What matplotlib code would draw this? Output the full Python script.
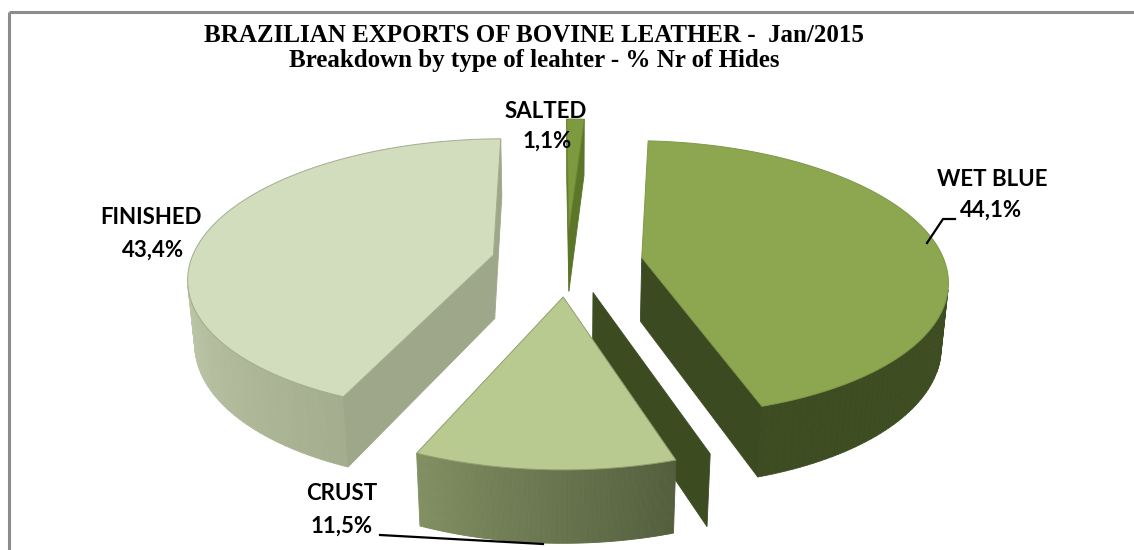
import numpy as np
import matplotlib
matplotlib.use("Agg")
import matplotlib.pyplot as plt
from matplotlib.patches import Polygon
from matplotlib.colors import to_rgb

# ---------------- data ----------------
categories = ["WET BLUE", "CRUST", "FINISHED", "SALTED"]
shares = [44.1, 11.5, 43.4, 1.1]
pct_labels = ["44,1%", "11,5%", "43,4%", "1,1%"]
title_lines = ["BRAZILIAN EXPORTS OF BOVINE LEATHER -  Jan/2015",
               "Breakdown by type of leahter - % Nr of Hides"]

# ---------------- style ----------------
top_colors = ["#8CA750", "#B8CA8F", "#D1DDBC", "#7D9A3E"]
wall_col_a = ["#3A4820", "#535E3D", "#A4AE8E", "#5F7B2C"]   # colour at slice start angle
wall_col_b = ["#3E4C22", "#818F62", "#C6D0B2", "#6E8B36"]   # colour towards slice end
radial_cols = ["#3C4A21", "#6E7B52", "#9EA78A", "#5B7629"]
edge_cols = ["#7E9848", "#8F9E6E", "#A3AD8E", "#6B8634"]
ghost_col = "#3D4B21"

W, H = 1134, 550
fig = plt.figure(figsize=(W / 100, H / 100), dpi=100)
ax = fig.add_axes([0, 0, 1, 1])
ax.set_xlim(0, W)
ax.set_ylim(H, 0)
ax.axis("off")

# ---------------- 3D projection ----------------
elev = np.radians(27.6)
Dcam = 6.0
Fcam = 1800.0
X0, Y0 = 567.0, 294.0
thick = 0.24
zt, zb = thick / 2, -thick / 2
explode = 0.25
start_deg = 3.5
cam = np.array([0.0, Dcam * np.cos(elev), Dcam * np.sin(elev)])


def proj(x, y, z):
    depth = Dcam - y * np.cos(elev) - z * np.sin(elev)
    up = -y * np.sin(elev) + z * np.cos(elev)
    return X0 + Fcam * x / depth, Y0 - Fcam * up / depth


def visible(n, p):
    return np.dot(n, cam - p) > 0


def lerp_col(c1, c2, s):
    a, b = np.array(to_rgb(c1)), np.array(to_rgb(c2))
    return tuple(a + (b - a) * np.clip(s, 0, 1))


total = sum(shares)
bounds = np.concatenate([[0], np.cumsum(shares)]) / total * 360 + start_deg


def slice_geom(i, off):
    a0, a1 = np.radians(bounds[i]), np.radians(bounds[i + 1])
    th = np.linspace(a0, a1, 120)
    ox, oy = off
    rx, ry = np.sin(th) + ox, -np.cos(th) + oy
    return a0, a1, th, rx, ry, ox, oy


def radial_face(a, ox, oy, sign):
    n = sign * np.array([np.cos(a), np.sin(a), 0.0])
    ex, ey = np.sin(a) + ox, -np.cos(a) + oy
    pts3 = [(ox, oy, zt), (ex, ey, zt), (ex, ey, zb), (ox, oy, zb)]
    return n, pts3


def draw_slice(i, off):
    a0, a1, th, rx, ry, ox, oy = slice_geom(i, off)
    # outer wall
    for k in range(len(th) - 1):
        tm = 0.5 * (th[k] + th[k + 1])
        n = np.array([np.sin(tm), -np.cos(tm), 0.0])
        p = np.array([0.5 * (rx[k] + rx[k + 1]), 0.5 * (ry[k] + ry[k + 1]), 0.0])
        if not visible(n, p):
            continue
        span = min(a1 - a0, np.radians(75))
        s = (tm - a0) / span
        col = lerp_col(wall_col_a[i], wall_col_b[i], s)
        q = [proj(rx[k], ry[k], zt), proj(rx[k + 1], ry[k + 1], zt),
             proj(rx[k + 1], ry[k + 1], zb), proj(rx[k], ry[k], zb)]
        ax.add_patch(Polygon(q, closed=True, fc=col, ec=col, lw=0.6, zorder=2))
    # radial faces
    for a, sign in ((a0, -1.0), (a1, 1.0)):
        n, pts3 = radial_face(a, ox, oy, sign)
        c = np.mean(np.array(pts3), axis=0)
        if visible(n, c):
            q = [proj(*p) for p in pts3]
            ax.add_patch(Polygon(q, closed=True, fc=radial_cols[i],
                                 ec=radial_cols[i], lw=0.6, zorder=2))
    # top face
    top = [proj(ox, oy, zt)] + [proj(x, y, zt) for x, y in zip(rx, ry)]
    ax.add_patch(Polygon(top, closed=True, fc=top_colors[i], ec=edge_cols[i],
                         lw=0.7, zorder=2))


offsets = []
for i in range(len(shares)):
    m = np.radians(0.5 * (bounds[i] + bounds[i + 1]))
    offsets.append((explode * np.sin(m), -explode * np.cos(m)))

# painter order: salted (far), finished, wet blue, ghost face, crust (near)
draw_slice(3, offsets[3])
draw_slice(2, offsets[2])
draw_slice(0, offsets[0])

# detached end face of the wet-blue slice, drawn next to the crust slice
a_end = np.radians(bounds[1])
nrm = np.array([-np.cos(a_end), -np.sin(a_end)])
goff = (offsets[1][0] + 0.10 * nrm[0], offsets[1][1] + 0.10 * nrm[1])
_, pts3 = radial_face(a_end, goff[0], goff[1], 1.0)
ax.add_patch(Polygon([proj(*p) for p in pts3], closed=True, fc=ghost_col,
                     ec=ghost_col, lw=0.6, zorder=2))

draw_slice(1, offsets[1])

# ---------------- frame ----------------
ax.plot([9, 9], [H, 12], color="#8C8C8C", lw=2.2, zorder=1, solid_capstyle="butt")
ax.plot([9, W], [12, 12], color="#8C8C8C", lw=2.2, zorder=1, solid_capstyle="butt")

# ---------------- titles ----------------
tfont = dict(family="Liberation Serif", weight="bold", fontsize=18, color="black",
             ha="center", va="center", zorder=5)
ax.text(534, 35, title_lines[0], **tfont)
ax.text(534, 60, title_lines[1], **tfont)

# ---------------- labels ----------------
lfont = dict(family="Lato", weight="bold", fontsize=16, color="black",
             ha="center", va="center", zorder=5)
label_pos = {
    0: ((992, 180), (991, 210)),
    1: ((342, 494), (342, 526)),
    2: ((151, 217), (153, 250)),
    3: ((546, 112), (547, 141)),
}
for i, ((nx, ny), (px, py)) in label_pos.items():
    ax.text(nx, ny, categories[i], **lfont)
    ax.text(px, py, pct_labels[i], **lfont)

# leader lines
ax.plot([955, 943, 927], [219, 219, 243], color="black", lw=1.6, zorder=4)
ax.plot([380, 543], [535, 544], color="black", lw=1.6, zorder=4)

fig.savefig("out.png", dpi=100, facecolor="white")
